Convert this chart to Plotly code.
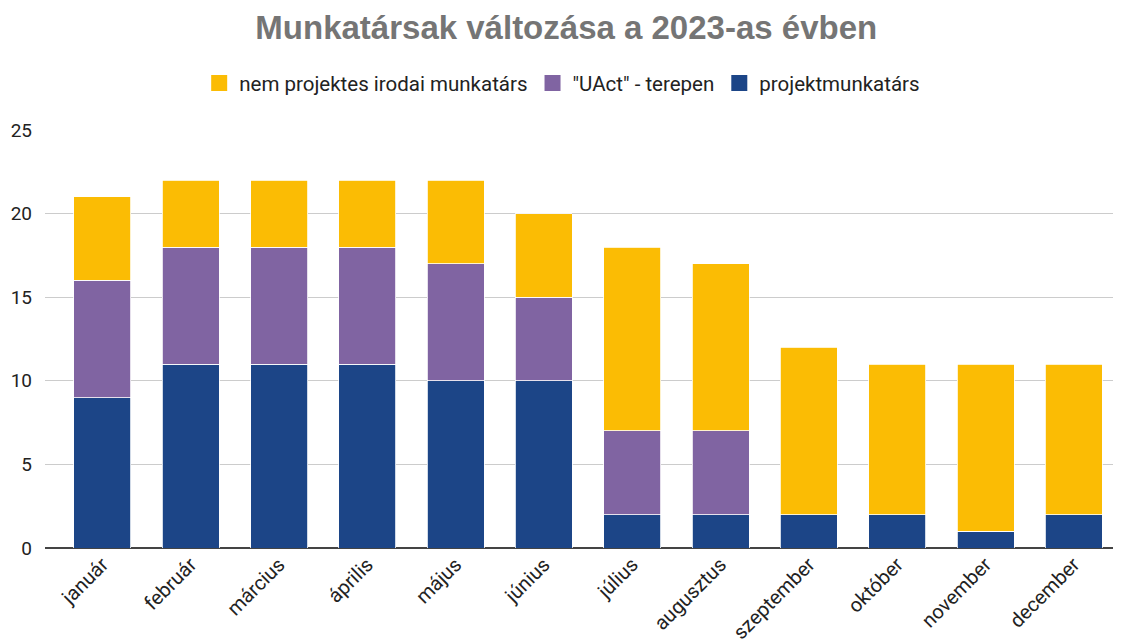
import plotly.graph_objects as go

months = ["január", "február", "március", "április", "május", "június",
          "július", "augusztus", "szeptember", "október", "november", "december"]
projekt = [9, 11, 11, 11, 10, 10, 2, 2, 2, 2, 1, 2]
uact = [7, 7, 7, 7, 7, 5, 5, 5, 0, 0, 0, 0]
nem_projektes = [5, 4, 4, 4, 5, 5, 11, 10, 10, 9, 10, 9]

series = [
    ("projektmunkatárs", projekt, "#1c4587"),
    ('"UAct" - terepen', uact, "#8064a2"),
    ("nem projektes irodai munkatárs", nem_projektes, "#fbbc04"),
]

fig = go.Figure()
for name, vals, color in series:
    fig.add_trace(go.Bar(
        x=months, y=vals, name=name, legendgroup=name, showlegend=False,
        marker=dict(color=color, line=dict(color="white", width=0.8)),
    ))
# legend entries with larger square swatches
for name, vals, color in series:
    fig.add_trace(go.Scatter(
        x=[None], y=[None], mode="markers", name=name, legendgroup=name,
        marker=dict(symbol="square", size=18, color=color),
        showlegend=True, hoverinfo="skip",
    ))

fig.update_layout(
    barmode="stack",
    bargap=0.355,
    width=1121, height=643,
    margin=dict(l=37, r=11, t=122, b=103, autoexpand=False),
    paper_bgcolor="white", plot_bgcolor="white",
    font=dict(family="Roboto, Liberation Sans, Arial, sans-serif", size=19, color="#222222"),
    title=dict(
        text="<b>Munkatársak változása a 2023-as évben</b>",
        x=0.498, xanchor="center", y=0.970, yanchor="middle",
        font=dict(family="Liberation Sans, Arial, sans-serif", size=33, color="#757575"),
    ),
    legend=dict(
        orientation="h", x=0.482, xanchor="center",
        y=1.112, yanchor="middle",
        traceorder="reversed", font=dict(size=20.5, color="#222222"),
    ),
    showlegend=True,
)
fig.update_xaxes(tickangle=-45, showgrid=False, ticks="", tickfont=dict(size=20),
                 range=[-0.65, 11.5], automargin=False)
fig.update_yaxes(
    range=[0, 25], dtick=5, showgrid=True, gridcolor="#cccccc", gridwidth=1,
    zeroline=True, zerolinecolor="#444444", zerolinewidth=1.5,
    ticks="", tickfont=dict(size=19), ticklabelstandoff=12, automargin=False,
)
fig.write_html("out.html")
